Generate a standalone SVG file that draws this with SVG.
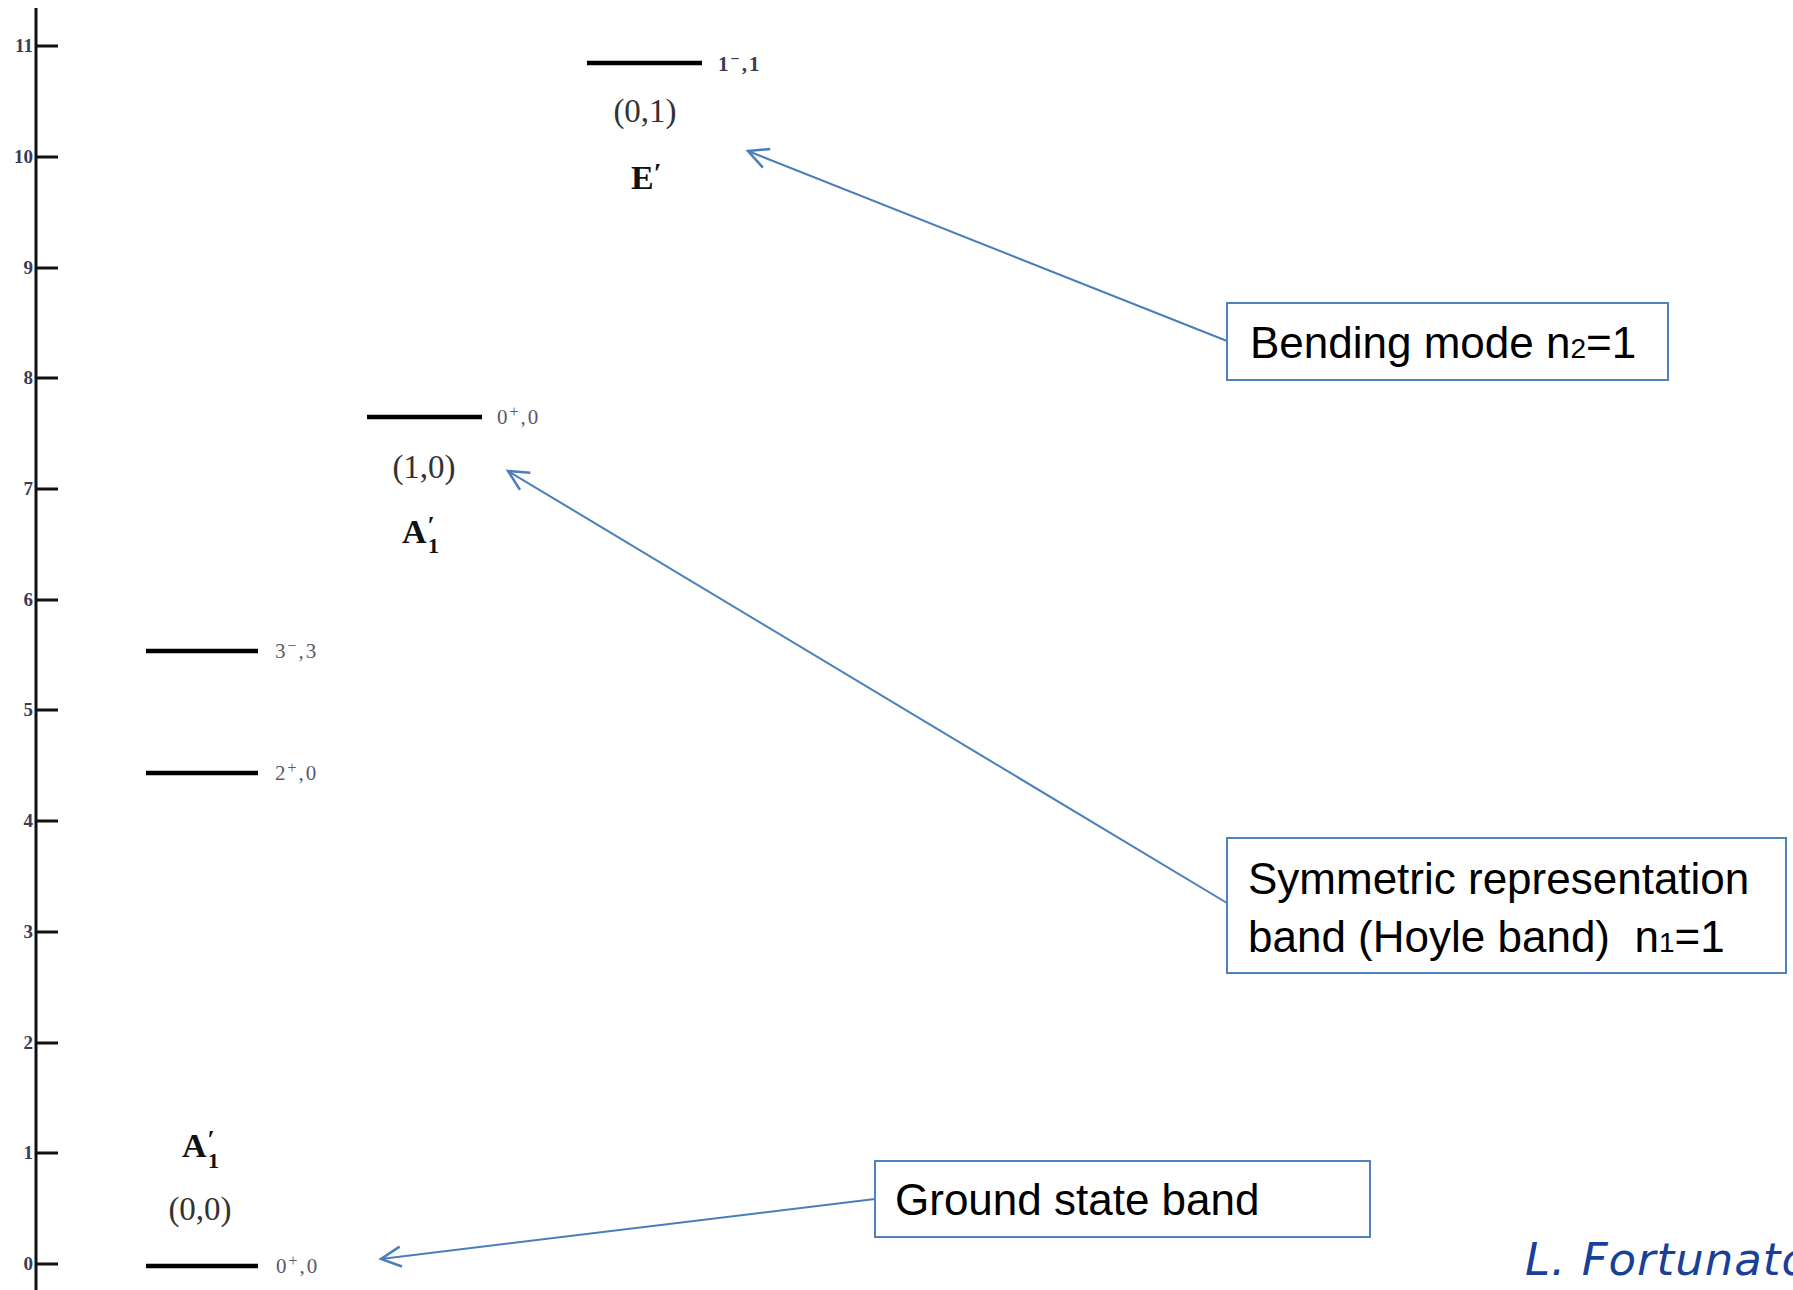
<svg xmlns="http://www.w3.org/2000/svg" width="1793" height="1290" viewBox="0 0 1793 1290">
<defs>
<style>
.axis{stroke:#111;stroke-width:3;fill:none}
.lvl{stroke:#000;stroke-width:4.5}
.tick{font-family:"Liberation Serif",serif;font-size:19px;font-weight:bold;fill:#3a3a55;text-anchor:end}
.ll{font-family:"Liberation Serif",serif;font-size:21px;fill:#5a5a6a;letter-spacing:2px}
.qn{font-family:"Liberation Serif",serif;font-size:33px;fill:#333;text-anchor:middle}
.irr{font-family:"Liberation Serif",serif;font-size:34px;font-weight:bold;fill:#111}
.box{fill:#fff;stroke:#4f81bd;stroke-width:2}
.bt{font-family:"Liberation Sans",Arial,sans-serif;font-size:44px;fill:#000;white-space:pre}
.conn{stroke:#4a7ebb;stroke-width:2;fill:none}
.sig{font-family:"DejaVu Sans",sans-serif;font-style:italic;font-size:45px;fill:#1a3f96;letter-spacing:1px}
</style>
<marker id="arr" markerUnits="userSpaceOnUse" markerWidth="30" markerHeight="30" refX="22" refY="12" orient="auto">
<path d="M2,2 L22,12 L2,22" fill="none" stroke="#4a7ebb" stroke-width="2.5"/>
</marker>
</defs>
<rect width="1793" height="1290" fill="#fff"/>

<g id="axis">
<line class="axis" x1="36" y1="8" x2="36" y2="1290"/>
<path class="axis" d="M36,46H58M36,157H58M36,268H58M36,378H58M36,489H58M36,600H58M36,710H58M36,821H58M36,932H58M36,1043H58M36,1153H58M36,1264H58"/>
<text class="tick" x="33" y="52">11</text>
<text class="tick" x="33" y="163">10</text>
<text class="tick" x="33" y="274">9</text>
<text class="tick" x="33" y="384">8</text>
<text class="tick" x="33" y="495">7</text>
<text class="tick" x="33" y="606">6</text>
<text class="tick" x="33" y="716">5</text>
<text class="tick" x="33" y="827">4</text>
<text class="tick" x="33" y="938">3</text>
<text class="tick" x="33" y="1049">2</text>
<text class="tick" x="33" y="1159">1</text>
<text class="tick" x="33" y="1270">0</text>
</g>

<g id="level-ground">
<line class="lvl" x1="146" y1="1266" x2="258" y2="1266"/>
<text class="ll" x="276" y="1273">0<tspan dy="-7" font-size="16">+</tspan><tspan dy="7">,0</tspan></text>
<text class="qn" x="200" y="1220">(0,0)</text>
<text class="irr" x="182" y="1157">A<tspan dx="1" dy="-9" font-size="26">′</tspan><tspan dx="-7" dy="20" font-size="22">1</tspan></text>
</g>

<g id="level-2plus">
<line class="lvl" x1="146" y1="773" x2="258" y2="773"/>
<text class="ll" x="275" y="780">2<tspan dy="-7" font-size="16">+</tspan><tspan dy="7">,0</tspan></text>
</g>

<g id="level-3minus">
<line class="lvl" x1="146" y1="651" x2="258" y2="651"/>
<text class="ll" x="275" y="658">3<tspan dy="-7" font-size="16">−</tspan><tspan dy="7">,3</tspan></text>
</g>

<g id="level-hoyle">
<line class="lvl" x1="367" y1="417" x2="482" y2="417"/>
<text class="ll" x="497" y="424">0<tspan dy="-7" font-size="16">+</tspan><tspan dy="7">,0</tspan></text>
<text class="qn" x="424" y="478">(1,0)</text>
<text class="irr" x="402" y="543">A<tspan dx="1" dy="-9" font-size="26">′</tspan><tspan dx="-7" dy="19" font-size="22">1</tspan></text>
</g>

<g id="level-bending">
<line class="lvl" x1="587" y1="63" x2="702" y2="63"/>
<text class="ll" x="718" y="71" style="fill:#3a3a55;font-weight:bold">1<tspan dy="-7" font-size="16">−</tspan><tspan dy="7">,1</tspan></text>
<text class="qn" x="645" y="122">(0,1)</text>
<text class="irr" x="631" y="189" font-size="36">E<tspan dx="0" dy="-7" font-size="28">′</tspan></text>
</g>

<g id="connectors">
<line class="conn" x1="1227" y1="341" x2="748" y2="151" marker-end="url(#arr)"/>
<line class="conn" x1="1227" y1="903" x2="508" y2="471" marker-end="url(#arr)"/>
<line class="conn" x1="875" y1="1199" x2="381" y2="1259" marker-end="url(#arr)"/>
</g>

<g id="box-bending">
<rect class="box" x="1227" y="303" width="441" height="77"/>
<text class="bt" x="1250" y="358">Bending mode n<tspan font-size="28">2</tspan>=1</text>
</g>

<g id="box-hoyle">
<rect class="box" x="1227" y="838" width="559" height="135"/>
<text class="bt" x="1248" y="894">Symmetric representation</text>
<text class="bt" x="1248" y="952">band (Hoyle band)&#160; n<tspan font-size="28">1</tspan>=1</text>
</g>

<g id="box-ground">
<rect class="box" x="875" y="1161" width="495" height="76"/>
<text class="bt" x="895" y="1215">Ground state band</text>
</g>

<text class="sig" x="1525" y="1275">L. Fortunato</text>
</svg>
